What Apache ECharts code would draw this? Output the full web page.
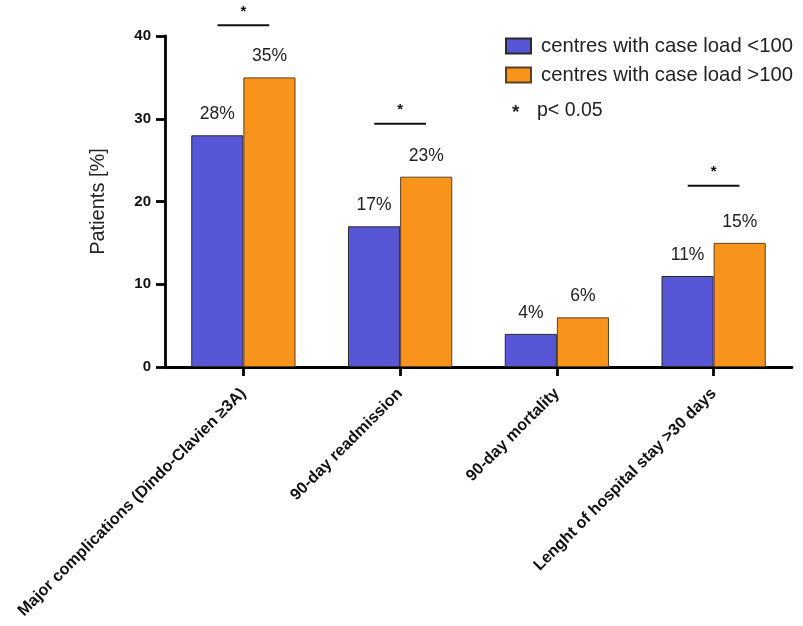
<!DOCTYPE html>
<html>
<head>
<meta charset="utf-8">
<script src="https://cdn.jsdelivr.net/npm/echarts@6/dist/echarts.min.js"></script>
<style>
  html, body { margin: 0; padding: 0; background: #fff; }
  #chart { width: 803px; height: 626px; }
</style>
</head>
<body>
<div id="chart"></div>
<script>
// Outcome categories
const categories = [
  'Major complications (Dindo-Clavien \u22653A)',
  '90-day readmission',
  '90-day mortality',
  'Lenght of hospital stay >30 days'
];
// Percent of patients per centre group
const lowVolume = [28, 17, 4, 11];
const highVolume = [35, 23, 6, 15];
const seriesNames = ['centres with case load <100', 'centres with case load >100'];
// Significance brackets: [category index, height in %]
const significance = [[0, 41.3], [1, 29.4], [3, 21.9]];
const yTicks = { min: 0, max: 40, interval: 10 };

const FONT = '"Liberation Sans", Arial, Helvetica, sans-serif';
const BLUE = '#5656D6';
const ORANGE = '#F8931B';

const chart = echarts.init(document.getElementById('chart'));

const barLabel = {
  show: true,
  position: 'top',
  distance: 12,
  fontFamily: FONT,
  fontSize: 17.5,
  color: '#222',
  formatter: p => p.value + '%'
};

chart.setOption({
  animation: false,
  backgroundColor: '#fff',
  textStyle: { fontFamily: FONT },
  grid: { left: 165, right: 11, top: 36, bottom: 259, containLabel: false },
  legend: {
    orient: 'vertical',
    left: 500,
    top: 31,
    itemWidth: 25,
    itemHeight: 15,
    itemGap: 9,
    icon: 'rect',
    textStyle: { fontFamily: FONT, fontSize: 20.3, color: '#222', padding: [0, 0, 0, 5] },
    data: seriesNames
  },
  xAxis: {
    type: 'category',
    data: categories,
    axisLine: { lineStyle: { color: '#000', width: 2.8 } },
    axisTick: { show: true, alignWithLabel: true, length: 9, lineStyle: { color: '#000', width: 2.8 } },
    axisLabel: {
      rotate: 45,
      interval: 0,
      margin: 24,
      fontFamily: FONT,
      fontSize: 16.2,
      fontWeight: 'bold',
      color: '#111'
    }
  },
  yAxis: {
    type: 'value',
    min: yTicks.min,
    max: yTicks.max,
    interval: yTicks.interval,
    name: 'Patients [%]',
    nameLocation: 'middle',
    nameGap: 57,
    nameTextStyle: { fontFamily: FONT, fontSize: 20, color: '#222' },
    axisLine: { show: true, lineStyle: { color: '#000', width: 2.8 } },
    axisTick: { show: true, length: 9, lineStyle: { color: '#000', width: 2.8 } },
    axisLabel: { fontFamily: FONT, fontSize: 15, fontWeight: 'bold', color: '#111', margin: 14 },
    splitLine: { show: false }
  },
  graphic: [
    {
      type: 'text',
      left: 512,
      top: 103,
      style: { text: '*', font: 'bold 19px ' + FONT, fill: '#222' }
    },
    {
      type: 'text',
      left: 537,
      top: 101,
      style: { text: 'p< 0.05', font: '19.5px ' + FONT, fill: '#222' }
    }
  ],
  series: [
    {
      name: seriesNames[0],
      type: 'bar',
      data: lowVolume,
      barGap: '0%',
      barCategoryGap: '33.5%',
      itemStyle: { color: BLUE, borderColor: '#2a2a2a', borderWidth: 1 },
      label: barLabel
    },
    {
      name: seriesNames[1],
      type: 'bar',
      data: highVolume,
      barGap: '0%',
      barCategoryGap: '33.5%',
      itemStyle: { color: ORANGE, borderColor: '#5a4020', borderWidth: 1 },
      label: barLabel
    },
    {
      // horizontal bracket with a star above it
      type: 'custom',
      data: significance,
      clip: false,
      silent: true,
      renderItem: function (params, api) {
        const pt = api.coord([api.value(0), api.value(1)]);
        const band = api.size([1, 0])[0];
        const half = band * 0.165;
        return {
          type: 'group',
          children: [
            {
              type: 'line',
              shape: { x1: pt[0] - half, y1: pt[1], x2: pt[0] + half, y2: pt[1] },
              style: { stroke: '#111', lineWidth: 2 }
            },
            {
              type: 'text',
              x: pt[0],
              y: pt[1] - 6,
              style: {
                text: '*',
                font: 'bold 15px ' + FONT,
                fill: '#111',
                align: 'center',
                verticalAlign: 'bottom'
              }
            }
          ]
        };
      }
    }
  ]
});
</script>
</body>
</html>
